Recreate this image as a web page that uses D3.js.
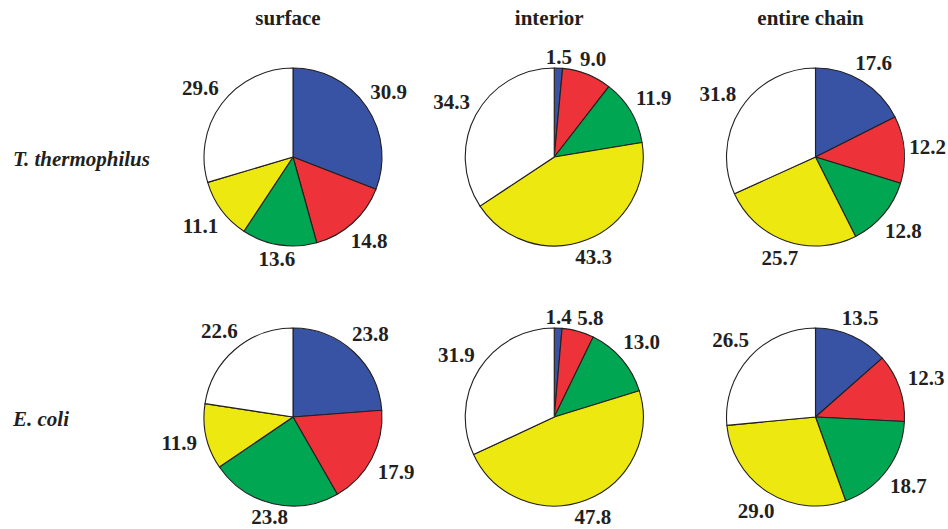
<!DOCTYPE html>
<html>
<head>
<meta charset="utf-8">
<script src="https://cdn.jsdelivr.net/npm/d3@7"></script>
<style>
  html, body { margin: 0; padding: 0; background: #fff; }
  svg { display: block; }
</style>
</head>
<body>
<svg id="chart" width="948" height="529"></svg>
<script>
// ---- data ----
const columns = ["surface", "interior", "entire chain"];
const rows = ["T. thermophilus", "E. coli"];
const categories = ["class 1", "class 2", "class 3", "class 4", "class 5"];

const tthSurface  = [30.9, 14.8, 13.6, 11.1, 29.6];
const tthInterior = [1.5, 9.0, 11.9, 43.3, 34.3];
const tthEntire   = [17.6, 12.2, 12.8, 25.7, 31.8];
const ecoSurface  = [23.8, 17.9, 23.8, 11.9, 22.6];
const ecoInterior = [1.4, 5.8, 13.0, 47.8, 31.9];
const ecoEntire   = [13.5, 12.3, 18.7, 29.0, 26.5];

const seriesGrid = [
  [tthSurface, tthInterior, tthEntire],
  [ecoSurface, ecoInterior, ecoEntire]
];

// ---- style ----
const W = 948, H = 529;
const colors = ["#3953a4", "#ee3239", "#00a651", "#ede910", "#ffffff"];
const radius = 89;
const FONT = "'Liberation Serif', 'Times New Roman', Times, serif";
const INK = "#231f20";

const svg = d3.select("#chart");

const xScale = d3.scalePoint().domain(columns).range([293, 815.5]);
const yScale = d3.scalePoint().domain(rows).range([157, 417]);
const color = d3.scaleOrdinal().domain(categories).range(colors);

const pie = d3.pie().sort(null).value(d => d.value).startAngle(0).endAngle(2 * Math.PI);
const arc = d3.arc().innerRadius(0).outerRadius(radius);

// column headers
svg.selectAll("text.col")
  .data(columns)
  .join("text")
  .attr("class", "col")
  .attr("x", d => xScale(d) - 5)
  .attr("y", 25)
  .attr("text-anchor", "middle")
  .attr("font-family", FONT)
  .attr("font-weight", "bold")
  .attr("font-size", 21)
  .attr("fill", INK)
  .text(d => d);

// row labels
svg.selectAll("text.row")
  .data(rows)
  .join("text")
  .attr("class", "row")
  .attr("x", 13)
  .attr("y", d => yScale(d) + 9)
  .attr("font-family", FONT)
  .attr("font-weight", "bold")
  .attr("font-size", 21)
  .attr("font-style", "italic")
  .attr("fill", INK)
  .text(d => d);

rows.forEach((rowName, ri) => {
  columns.forEach((colName, ci) => {
    const values = seriesGrid[ri][ci];
    const data = values.map((v, i) => ({ key: categories[i], value: v }));
    const cx = xScale(colName), cy = yScale(rowName);
    const g = svg.append("g")
      .attr("transform", `translate(${cx},${cy})`);

    const arcs = pie(data);

    g.selectAll("path")
      .data(arcs)
      .join("path")
      .attr("d", arc)
      .attr("fill", d => color(d.data.key))
      .attr("stroke", INK)
      .attr("stroke-width", 1.1)
      .attr("stroke-linejoin", "round");

    const labels = g.selectAll("text.val")
      .data(arcs)
      .join("text")
      .attr("class", "val")
      .attr("font-family", FONT)
      .attr("font-weight", "bold")
      .attr("font-size", 21)
      .attr("fill", INK)
      .attr("text-anchor", "middle")
      .attr("dy", "0.34em")
      .text(d => d.data.value.toFixed(1));

    const placed = [];
    const h = 13;
    labels.each(function(d) {
      const w = this.getBBox().width;
      let a = (d.startAngle + d.endAngle) / 2;
      let x, y, box;
      for (let k = 0; k < 60; k++) {
        const s = Math.sin(a), c = Math.cos(a);
        const dist = radius + 4 + Math.abs(s) * (w / 2 + 5) + Math.abs(c) * h / 2;
        x = s * dist; y = -c * dist;
        // keep inside the canvas
        x = Math.min(x, W - 2 - cx - w / 2);
        y = Math.min(y, H - 6 - cy - h / 2);
        box = { x0: x - w / 2 - 2, x1: x + w / 2 + 2, y0: y - h / 2 - 2, y1: y + h / 2 + 2 };
        const hit = placed.some(p => box.x0 < p.x1 && box.x1 > p.x0 && box.y0 < p.y1 && box.y1 > p.y0);
        if (!hit) break;
        a += 0.02;
      }
      placed.push(box);
      d3.select(this).attr("x", x).attr("y", y);
    });
  });
});
</script>
</body>
</html>
